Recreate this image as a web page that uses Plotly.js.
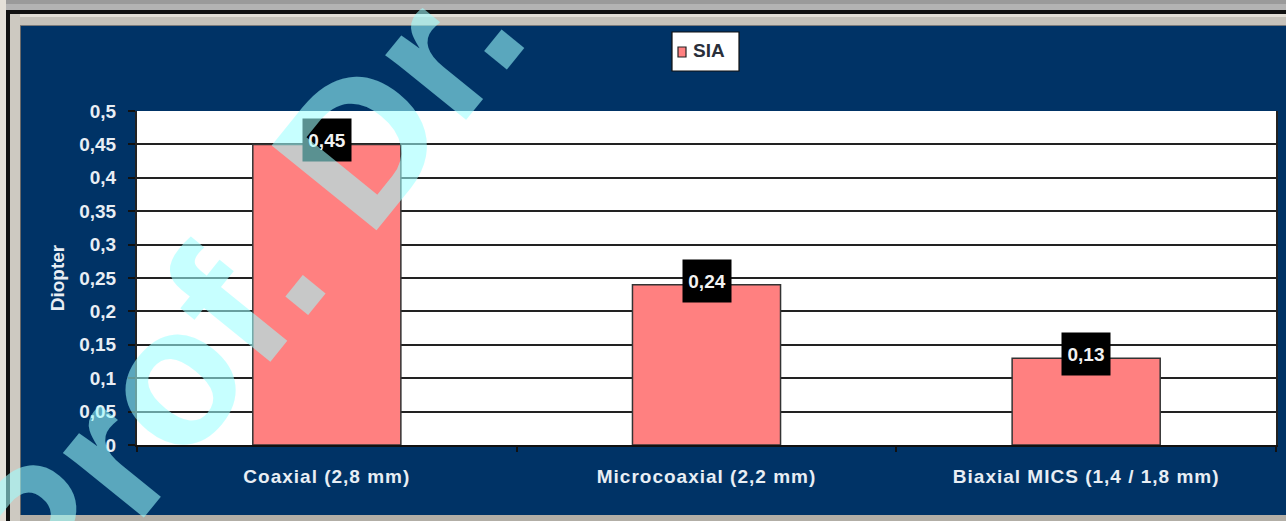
<!DOCTYPE html>
<html>
<head>
<meta charset="utf-8">
<script src="https://cdn.plot.ly/plotly-3.0.1.min.js"></script>
<style>
  html, body { margin: 0; padding: 0; background: #003366; }
  #chart { width: 1286px; height: 521px; }
  .xtick text { letter-spacing: 1px; }
</style>
</head>
<body>
<div id="chart"></div>
<script>
// Surgically induced astigmatism by incision technique
const categories = ['Coaxial (2,8 mm)', 'Microcoaxial (2,2 mm)', 'Biaxial MICS (1,4 / 1,8 mm)'];
const siaValues = [0.45, 0.24, 0.13];
const seriesName = 'SIA';
const yTickVals = [0, 0.05, 0.1, 0.15, 0.2, 0.25, 0.3, 0.35, 0.4, 0.45, 0.5];
const yTickText = ['0', '0,05', '0,1', '0,15', '0,2', '0,25', '0,3', '0,35', '0,4', '0,45', '0,5'];
const yTitle = 'Diopter';
const watermark = 'Prof. Dr.';

const W = 1286, H = 521;
const M = { l: 137, r: 10, t: 111, b: 76 };
const plotW = W - M.l - M.r, plotH = H - M.t - M.b;
// pixel -> paper coordinates
const px = x => (x - M.l) / plotW;
const py = y => (H - M.b - y) / plotH;

const NAVY = '#003366';
const BAR = '#ff8080';
const FONT = 'Liberation Sans, Arial, sans-serif';

function rect(x0, y0, x1, y1, fill, line) {
  return {
    type: 'rect', xref: 'paper', yref: 'paper', layer: 'above',
    x0: px(x0), x1: px(x1), y0: py(y1), y1: py(y0),
    fillcolor: fill,
    line: line ? { color: line, width: 1.2 } : { width: 0 }
  };
}

// window-style frame around the chart panel
const shapes = [
  rect(0, 0, W, 4, '#9a9a9a'),
  rect(0, 4, W, 10, '#b3b3b3'),
  rect(0, 10, W, 14, '#111111'),
  rect(0, 14, W, 17, '#e2ded6'),
  rect(0, 17, W, 25, '#c6c2ba'),
  rect(0, 25, W, 26, '#7a7a7a'),
  rect(0, 515, W, H, '#b2aea6'),
  rect(0, 0, 6, H, '#e4e0d8'),
  rect(6, 10, 10, H, '#111111'),
  rect(10, 14, 20, H, '#cdc9c1'),
  rect(20, 26, 21, 515, '#6a6a6a'),
  // legend box and swatch
  rect(672, 32, 739, 71, '#ffffff', '#111111'),
  rect(678, 47, 686, 57, BAR, '#222222')
];

const fmt = v => String(v).replace('.', ',');

const annotations = siaValues.map((v, i) => ({
  x: categories[i], y: v, xref: 'x', yref: 'y',
  text: fmt(v), showarrow: false,
  xanchor: 'center', yanchor: 'middle', yshift: 4,
  width: 46, height: 40,
  bgcolor: '#000000',
  font: { family: FONT, size: 19, color: '#f2f2f2', weight: 700 }
}));

annotations.push({
  xref: 'paper', yref: 'paper', x: px(691), y: py(51),
  xanchor: 'left', yanchor: 'middle', showarrow: false,
  text: seriesName,
  font: { family: FONT, size: 19, color: '#2a2f3a', weight: 700 }
});

// translucent diagonal signature over the whole panel
annotations.push({
  xref: 'paper', yref: 'paper', x: px(240), y: py(291),
  xanchor: 'center', yanchor: 'middle', showarrow: false,
  text: watermark, textangle: -51,
  opacity: 0.57,
  font: { family: FONT, size: 196, color: 'rgb(158,255,255)', weight: 700 }
});

const trace = {
  type: 'bar',
  name: seriesName,
  x: categories,
  y: siaValues,
  marker: { color: BAR, line: { color: '#333333', width: 1.5 } },
  hoverinfo: 'none'
};

const layout = {
  width: W, height: H,
  margin: M,
  paper_bgcolor: NAVY,
  plot_bgcolor: '#ffffff',
  showlegend: false,
  bargap: 0.61,
  font: { family: FONT, color: '#e8eef4' },
  xaxis: {
    type: 'category',
    showgrid: false,
    zeroline: false,
    showline: true, linecolor: '#111111', linewidth: 2,
    ticks: 'outside', tickson: 'boundaries', ticklen: 5, tickwidth: 2, tickcolor: '#111111',
    ticklabelstandoff: 13,
    tickfont: { family: FONT, size: 19, color: '#e8eef4', weight: 700 }
  },
  yaxis: {
    range: [0, 0.5],
    tickvals: yTickVals, ticktext: yTickText,
    showgrid: true, gridcolor: '#222222', gridwidth: 2,
    zeroline: false,
    showline: true, mirror: true, linecolor: '#222222', linewidth: 2,
    ticks: 'outside', ticklen: 7, tickwidth: 2, tickcolor: '#111111',
    ticklabelstandoff: 8,
    tickfont: { family: FONT, size: 19, color: '#e8eef4', weight: 700 },
    title: { text: yTitle, standoff: 10, font: { family: FONT, size: 19, color: '#e8eef4', weight: 700 } }
  },
  shapes: shapes,
  annotations: annotations
};

Plotly.newPlot('chart', [trace], layout, { staticPlot: true, displayModeBar: false });
</script>
</body>
</html>
